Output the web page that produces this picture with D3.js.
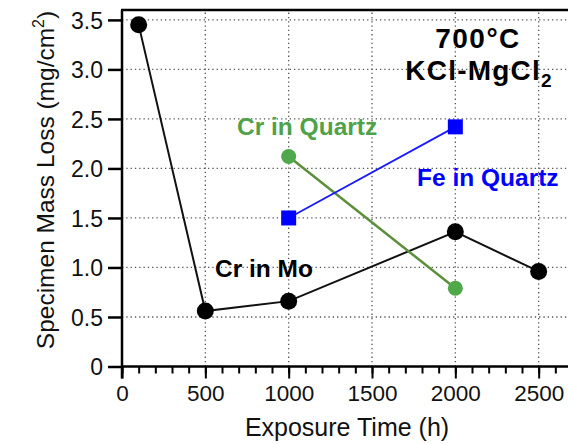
<!DOCTYPE html>
<html><head><meta charset="utf-8">
<script src="https://cdn.jsdelivr.net/npm/d3@7/dist/d3.min.js"></script>
<style>body{margin:0;background:#fff}svg{display:block}text{font-family:"Liberation Sans",Arial,Helvetica,sans-serif}</style>
</head><body><svg id="c" width="568" height="444"></svg>
<script>
const crMoX = [100, 500, 1000, 2000, 2500];
const crMoY = [3.45, 0.56, 0.66, 1.36, 0.96];
const crQzX = [1000, 2000];
const crQzY = [2.12, 0.79];
const feQzX = [1000, 2000];
const feQzY = [1.5, 2.42];
const xTicks = [0, 500, 1000, 1500, 2000, 2500];
const yTicks = [0, 0.5, 1.0, 1.5, 2.0, 2.5, 3.0, 3.5];
const yTickLabels = ["0", "0.5", "1.0", "1.5", "2.0", "2.5", "3.0", "3.5"];

const svg = d3.select("#c");
const x = d3.scaleLinear().domain([0, 2700]).range([122, 572]);
const y = d3.scaleLinear().domain([0, 3.6]).range([366.5, 10]);

// grid
const g = svg.append("g");
g.selectAll("line.gx").data(xTicks.filter(d => d > 0)).join("line")
  .attr("x1", d => x(d)).attr("x2", d => x(d)).attr("y1", y(0)).attr("y2", y(3.6))
  .attr("stroke", "#555").attr("stroke-width", 1.3).attr("stroke-dasharray", "1.3,3");
g.selectAll("line.gy").data(yTicks.filter(d => d > 0)).join("line")
  .attr("y1", d => y(d)).attr("y2", d => y(d)).attr("x1", x(0)).attr("x2", 568)
  .attr("stroke", "#555").attr("stroke-width", 1.3).attr("stroke-dasharray", "1.3,3");

// axes
const xMinor = d3.range(0, 2701, 100);
const xAxisMinor = d3.axisBottom(x).tickValues(xMinor).tickSize(7).tickFormat("");
svg.append("g").attr("transform", `translate(0,${y(0)})`).call(xAxisMinor)
  .call(s => s.select(".domain").remove())
  .call(s => s.selectAll("line").attr("stroke-width", 2));
const xAxis = d3.axisBottom(x).tickValues(xTicks).tickSize(12).tickPadding(7).tickFormat(d3.format("d"));
svg.append("g").attr("transform", `translate(0,${y(0)})`).call(xAxis)
  .call(s => s.select(".domain").remove())
  .call(s => s.selectAll("line").attr("stroke-width", 2))
  .call(s => s.selectAll("text").attr("font-size", 22.5).attr("fill", "#111"));
const yAxis = d3.axisLeft(y).tickValues(yTicks).tickSize(14).tickPadding(5)
  .tickFormat((d, i) => yTickLabels[i]);
svg.append("g").attr("transform", `translate(${x(0)},0)`).call(yAxis)
  .call(s => s.select(".domain").remove())
  .call(s => s.selectAll("line").attr("stroke-width", 2.5))
  .call(s => s.selectAll("text").attr("font-size", 23).attr("fill", "#111").attr("dy", "0.36em"));

// frame
svg.append("line").attr("x1", x(0)).attr("x2", x(0)).attr("y1", y(3.6)).attr("y2", y(0) + 12)
  .attr("stroke", "#000").attr("stroke-width", 2.5);
svg.append("line").attr("x1", x(0) - 1).attr("x2", 568).attr("y1", y(0)).attr("y2", y(0))
  .attr("stroke", "#000").attr("stroke-width", 2.5);
svg.append("line").attr("x1", x(0) - 1).attr("x2", 568).attr("y1", y(3.6)).attr("y2", y(3.6))
  .attr("stroke", "#000").attr("stroke-width", 2.5);

// series
const line = d3.line().x(d => x(d[0])).y(d => y(d[1]));
const crMo = crMoX.map((v, i) => [v, crMoY[i]]);
const crQz = crQzX.map((v, i) => [v, crQzY[i]]);
const feQz = feQzX.map((v, i) => [v, feQzY[i]]);

svg.append("path").datum(crMo).attr("d", line).attr("fill", "none").attr("stroke", "#111").attr("stroke-width", 2);
svg.append("path").datum(crQz).attr("d", line).attr("fill", "none").attr("stroke", "#5c8f3c").attr("stroke-width", 2.5);
svg.append("path").datum(feQz).attr("d", line).attr("fill", "none").attr("stroke", "#1a1aff").attr("stroke-width", 1.8);

svg.selectAll("circle.mo").data(crMo).join("circle")
  .attr("cx", d => x(d[0])).attr("cy", d => y(d[1])).attr("r", 8.5).attr("fill", "#000");
svg.selectAll("circle.qz").data(crQz).join("circle")
  .attr("cx", d => x(d[0])).attr("cy", d => y(d[1])).attr("r", 7.5).attr("fill", "#4fa84a");
svg.selectAll("rect.fe").data(feQz).join("rect")
  .attr("x", d => x(d[0]) - 7.5).attr("y", d => y(d[1]) - 7.5).attr("width", 15).attr("height", 15).attr("fill", "#0000ff");

// labels
svg.append("text").attr("x", 237).attr("y", 135).attr("font-size", 24.5).attr("font-weight", "bold")
  .attr("fill", "#4fa24a").text("Cr in Quartz");
svg.append("text").attr("x", 417).attr("y", 186).attr("font-size", 24.5).attr("font-weight", "bold")
  .attr("fill", "#0000ff").text("Fe in Quartz");
svg.append("text").attr("x", 215).attr("y", 277).attr("font-size", 24.5).attr("font-weight", "bold")
  .attr("fill", "#000").text("Cr in Mo");
svg.append("text").attr("x", 478).attr("y", 48).attr("text-anchor", "middle").attr("font-size", 28).attr("font-weight", "bold")
  .attr("letter-spacing", 1.5).attr("fill", "#000").text("700°C");
const t2 = svg.append("text").attr("x", 479).attr("y", 80).attr("text-anchor", "middle").attr("font-size", 28).attr("font-weight", "bold")
  .attr("letter-spacing", 1.2).attr("fill", "#000");
t2.append("tspan").text("KCl-MgCl");
t2.append("tspan").attr("font-size", 19).attr("dy", 7).text("2");

// axis titles
svg.append("text").attr("x", 347).attr("y", 436).attr("text-anchor", "middle").attr("font-size", 25).attr("fill", "#111")
  .text("Exposure Time (h)");
const yt = svg.append("text").attr("transform", "translate(54,180) rotate(-90)").attr("text-anchor", "middle").attr("font-size", 24.5).attr("fill", "#111");
yt.append("tspan").text("Specimen Mass Loss (mg/cm");
yt.append("tspan").attr("font-size", 16).attr("dy", -10).text("2");
yt.append("tspan").attr("dy", 10).text(")");
</script></body></html>
